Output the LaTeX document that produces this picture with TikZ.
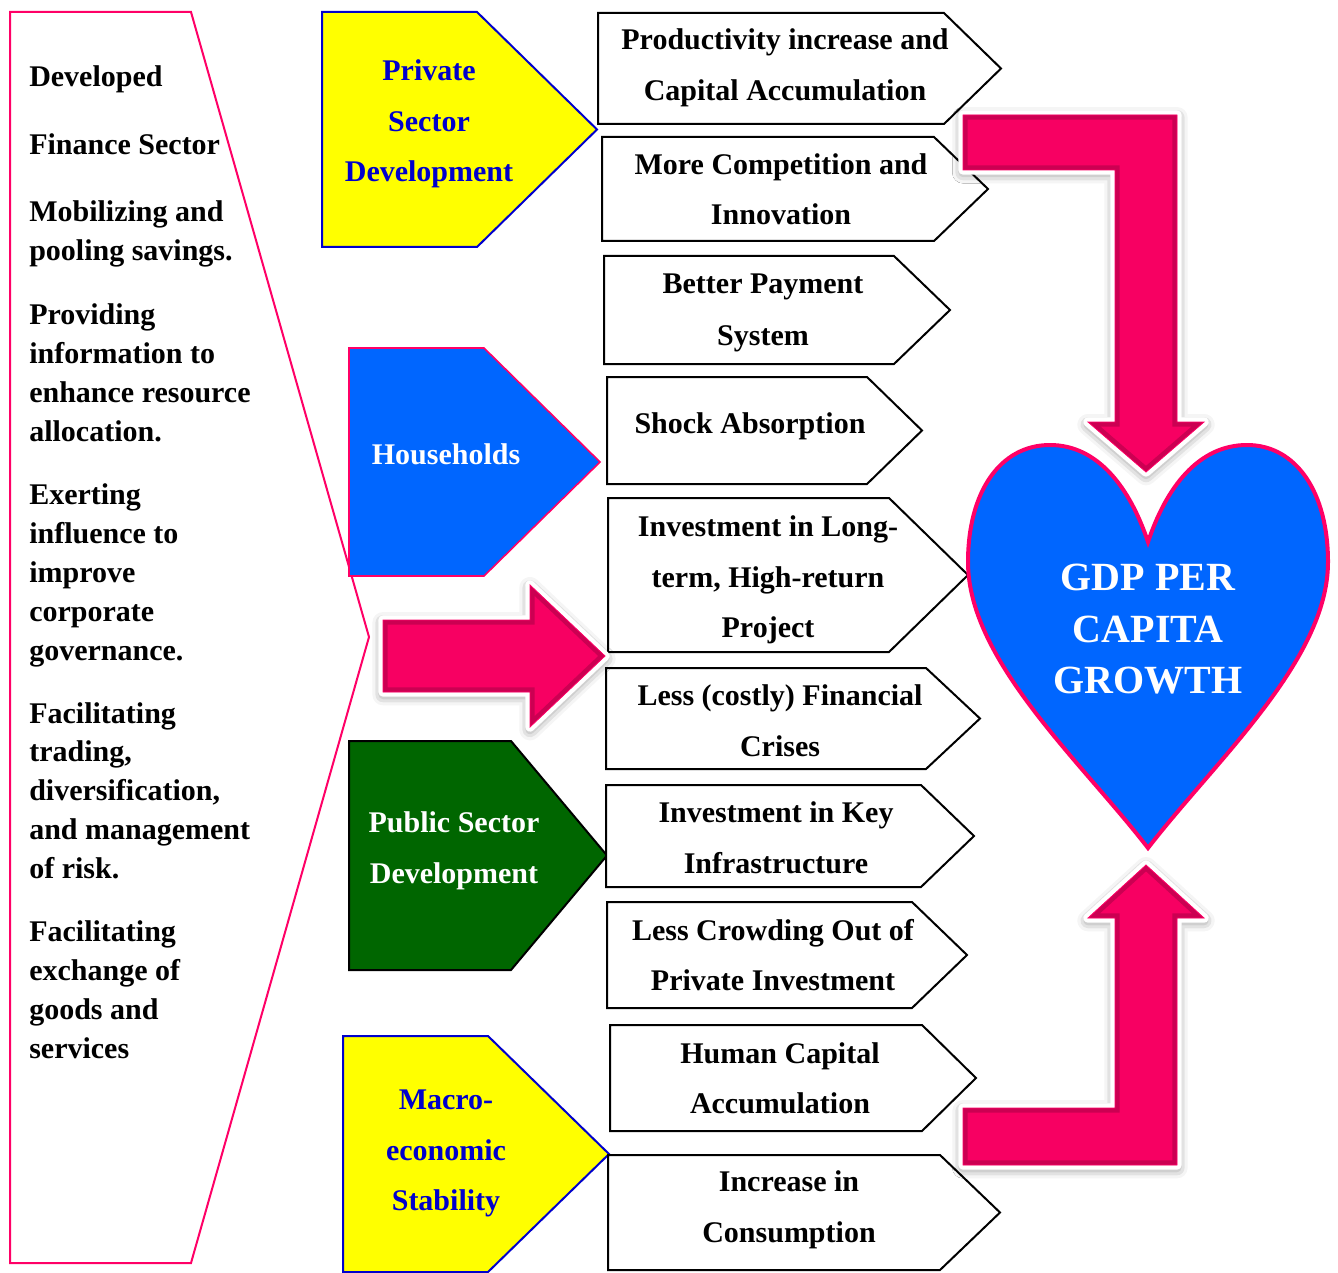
\documentclass[tikz,border=0pt]{standalone}
\usepackage{fontspec}
\setmainfont{Liberation Serif}
\usetikzlibrary{shadows.blur}

\definecolor{hotpink}{HTML}{FF0066}
\definecolor{arrowpink}{HTML}{F70062}
\definecolor{bevelpink}{HTML}{8A003A}
\definecolor{skyblue}{HTML}{0066FF}
\definecolor{deepblue}{HTML}{0000CC}
\definecolor{leafgreen}{HTML}{006600}
\definecolor{brightyellow}{HTML}{FFFF00}

% pentagon tag: style, left, top, corner x, tip x, bottom, tip name
\newcommand\tagshape[7]{%
  \path[#1] (#2,#3) -- (#4,#3) -- (#5,{(#3+#6)/2}) -- (#4,#6) -- (#2,#6) -- cycle;
  \coordinate (#7) at (#5,{(#3+#6)/2});
}

% bevelled pink arrow with white rim and soft shadow
\newcommand\pinkarrow[1]{%
  \path[blur shadow={shadow xshift=0pt,shadow yshift=-2pt,shadow blur radius=8pt,shadow opacity=60}] #1;
  \draw[white, line width=7pt, line join=round] #1;
  \fill[arrowpink] #1;
  \begin{scope}
    \clip #1;
    \draw[bevelpink, opacity=0.4, line width=7pt, line join=miter] #1;
  \end{scope}
  \draw[hotpink, line width=0.6pt, line join=miter] #1;
}

\begin{document}
\begin{tikzpicture}[x=0.75pt,y=-0.75pt,
  txt/.style={font=\fontsize{22.5}{27}\selectfont\bfseries, inner sep=0pt, anchor=base},
  ltxt/.style={txt, anchor=base west},
  wtxt/.style={txt, text=white},
  btxt/.style={txt, text=deepblue},
  htxt/.style={font=\fontsize{30}{36}\selectfont\bfseries, inner sep=0pt, anchor=base, text=white},
  outcome/.style={draw=black, line width=1.5pt, fill=white, line join=miter},
  yellowtag/.style={draw=deepblue, line width=1.5pt, fill=brightyellow, line join=miter},
  bluetag/.style={draw=hotpink, line width=1.2pt, fill=skyblue, line join=miter},
  greentag/.style={draw=black, line width=1.5pt, fill=leafgreen, line join=miter},
  frame/.style={draw=hotpink, line width=1.5pt, line join=miter},
  heartstyle/.style={draw=hotpink, line width=3pt, fill=skyblue, line join=miter}
]
\useasboundingbox (0,0) rectangle (1338,1273);

% ---- left frame with the finance sector functions
\path[frame] (10,12) -- (191,12) -- (369,637) -- (191,1263) -- (10,1263) -- cycle;
\coordinate (frametip) at (369,637);

\foreach \yy/\tt [count=\i] in {
  87/Developed, 155/Finance Sector,
  222/Mobilizing and, 261/pooling savings.,
  324/Providing, 363/information to, 402/enhance resource, 441/allocation.,
  504/Exerting, 543/influence to, 582/improve, 621/corporate, 660/governance.,
  723/Facilitating, 761/{trading,}, 800/{diversification,}, 839/and management, 878/of risk.,
  941/Facilitating, 980/exchange of, 1019/goods and, 1058/services}
  \node[ltxt] (fin\i) at (29,\yy) {\tt};

% ---- source tags
\tagshape{yellowtag}{322}{12}{477}{597}{247}{privtip}
\tagshape{bluetag}{349}{348}{484}{600}{576}{housetip}
\tagshape{greentag}{349}{741}{511}{607}{970}{pubtip}
\tagshape{yellowtag}{343}{1036}{488}{609}{1272}{macrotip}

\node[btxt] (priv1) at (429,81) {Private};
\node[btxt] (priv2) at (429,132) {Sector};
\node[btxt] (priv3) at (429,182) {Development};
\node[wtxt] (house1) at (446,464) {Households};
\node[wtxt] (pub1) at (454,832) {Public Sector};
\node[wtxt] (pub2) at (454,883) {Development};
\node[btxt] (macro1) at (446,1109) {Macro-};
\node[btxt] (macro2) at (446,1160) {economic};
\node[btxt] (macro3) at (446,1210) {Stability};

% ---- outcome boxes
\tagshape{outcome}{598}{13}{944}{1001}{124}{o1}
\tagshape{outcome}{602}{137}{934}{988}{241}{o2}
\tagshape{outcome}{604}{256}{894}{950}{364}{o3}
\tagshape{outcome}{607}{377}{867}{922}{484}{o4}
\tagshape{outcome}{608}{498}{889}{968}{652}{o5}
\tagshape{outcome}{606}{668}{926}{980}{769}{o6}
\tagshape{outcome}{606}{785}{921}{974}{887}{o7}
\tagshape{outcome}{607}{902}{912}{967}{1008}{o8}
\tagshape{outcome}{610}{1025}{922}{976}{1131}{o9}
\tagshape{outcome}{608}{1155}{940}{1000}{1270}{o10}

\node[txt] (t1a) at (785,50) {Productivity increase and};
\node[txt] (t1b) at (785,101) {Capital Accumulation};
\node[txt] (t2a) at (781,175) {More Competition and};
\node[txt] (t2b) at (781,225) {Innovation};
\node[txt] (t3a) at (763,294) {Better Payment};
\node[txt] (t3b) at (763,345) {System};
\node[txt] (t4a) at (750,433) {Shock Absorption};
\node[txt] (t5a) at (768,536) {Investment in Long-};
\node[txt] (t5b) at (768,587) {term, High-return};
\node[txt] (t5c) at (768,637) {Project};
\node[txt] (t6a) at (780,705) {Less (costly) Financial};
\node[txt] (t6b) at (780,756) {Crises};
\node[txt] (t7a) at (776,822) {Investment in Key};
\node[txt] (t7b) at (776,873) {Infrastructure};
\node[txt] (t8a) at (773,940) {Less Crowding Out of};
\node[txt] (t8b) at (773,990) {Private Investment};
\node[txt] (t9a) at (780,1063) {Human Capital};
\node[txt] (t9b) at (780,1113) {Accumulation};
\node[txt] (t10a) at (789,1191) {Increase in};
\node[txt] (t10b) at (789,1242) {Consumption};

% ---- heart
\path[heartstyle] (1148,542)
  .. controls (1130,488) and (1098,445) .. (1050,445)
  .. controls (1000,445) and (968,492) .. (968,562)
  .. controls (968,660) and (1080,760) .. (1148,848)
  .. controls (1216,760) and (1328,660) .. (1328,562)
  .. controls (1328,492) and (1296,445) .. (1247,445)
  .. controls (1198,445) and (1166,488) .. (1148,542) -- cycle;
\coordinate (heartnotch) at (1148,542);
\coordinate (hearttip) at (1148,848);
\node[htxt] (g1) at (1148,590) {GDP PER};
\node[htxt] (g2) at (1148,642) {CAPITA};
\node[htxt] (g3) at (1148,693) {GROWTH};

% ---- pink arrows
\pinkarrow{(963,115) -- (1177,115) -- (1177,422) -- (1204,422) -- (1146,472) -- (1088,422) -- (1115,422) -- (1115,170) -- (963,170) -- cycle}
\pinkarrow{(1146,865) -- (1204,918) -- (1177,918) -- (1177,1165) -- (963,1165) -- (963,1108) -- (1115,1108) -- (1115,918) -- (1088,918) -- cycle}
\pinkarrow{(383,620) -- (530,620) -- (530,585) -- (605,656) -- (530,727) -- (530,692) -- (383,692) -- cycle}

\end{tikzpicture}
\end{document}
